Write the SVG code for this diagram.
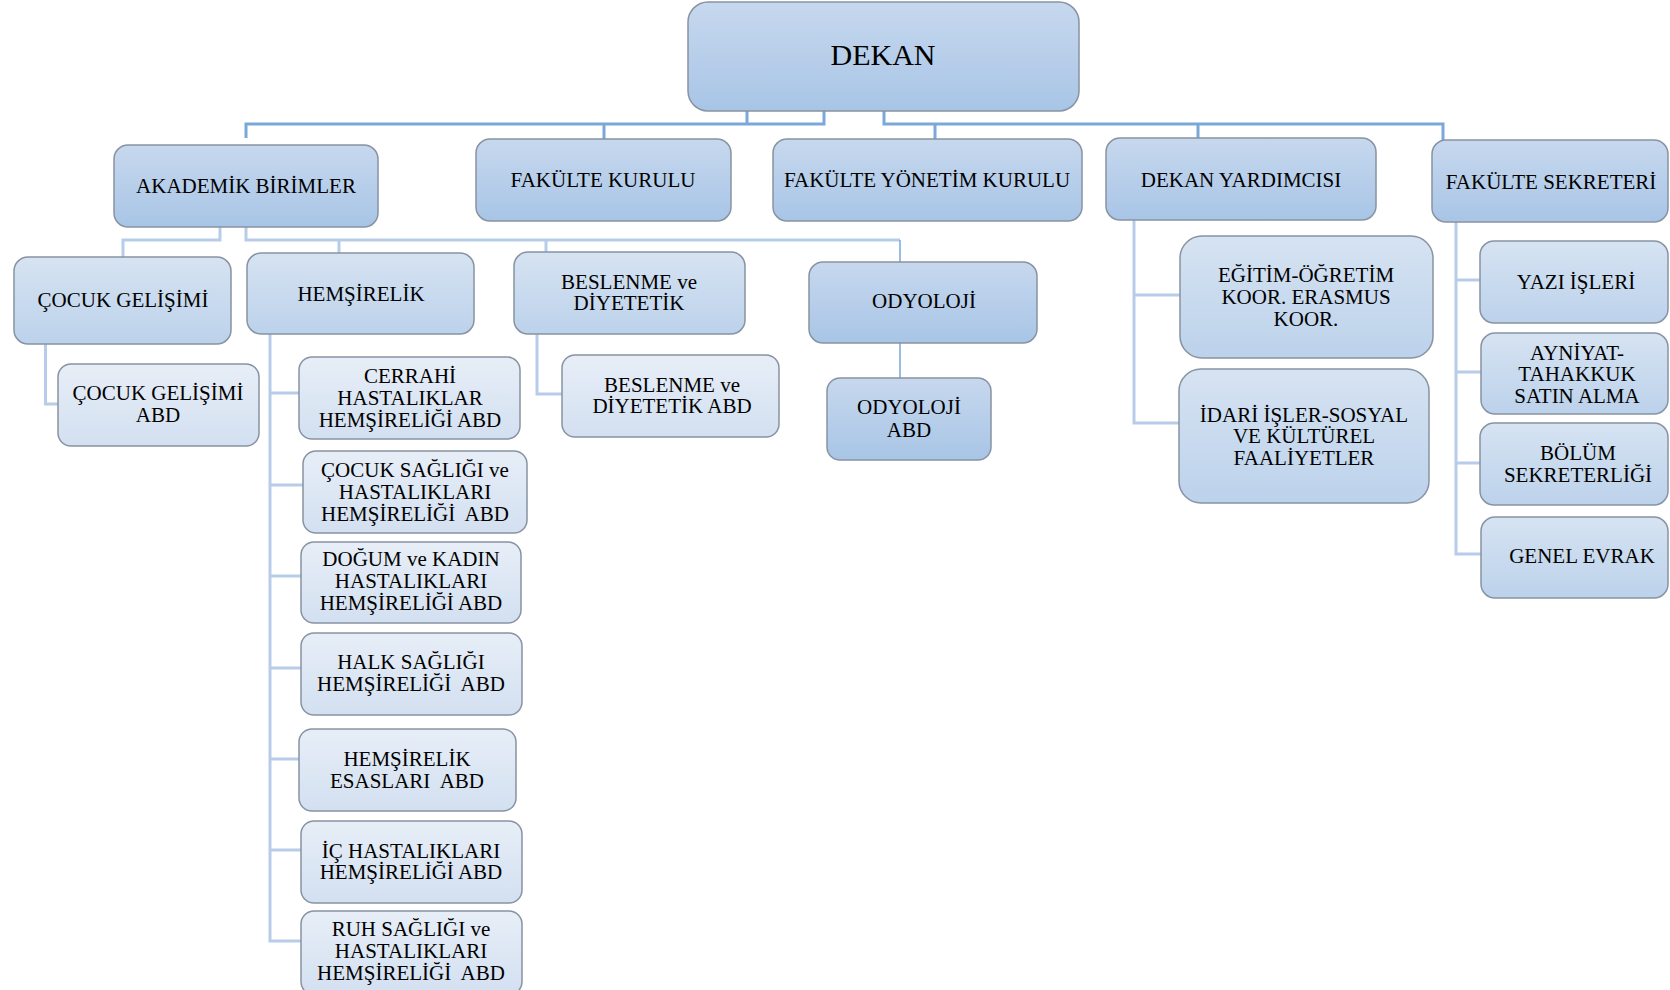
<svg xmlns="http://www.w3.org/2000/svg" width="1670" height="990" viewBox="0 0 1670 990">
<defs>
<linearGradient id="g1" x1="0" y1="0" x2="0" y2="1"><stop offset="0" stop-color="#c7d8ee"/><stop offset="1" stop-color="#a8c5e6"/></linearGradient>
<linearGradient id="g2" x1="0" y1="0" x2="0" y2="1"><stop offset="0" stop-color="#d6e3f2"/><stop offset="1" stop-color="#bcd2eb"/></linearGradient>
<linearGradient id="g3" x1="0" y1="0" x2="0" y2="1"><stop offset="0" stop-color="#e7eef7"/><stop offset="1" stop-color="#d3e0f1"/></linearGradient>
<style>
.n{stroke:#8893a3;stroke-width:1.5}
.l1{fill:url(#g1)}
.l2{fill:url(#g2)}
.l3{fill:url(#g3)}
text{font-family:"Liberation Serif","Times New Roman",serif;font-size:21px;fill:#000;text-anchor:middle}
.big{font-size:30px}
.c1{fill:none;stroke:#7ba7da;stroke-width:3}
.c2{fill:none;stroke:#b7cce8;stroke-width:3}
.c3{fill:none;stroke:#7ba7da;stroke-width:1.5}
</style>
</defs>
<rect width="1670" height="990" fill="#fff"/>
<g id="connectors">
<path class="c1" d="M747,111 V124 H246 V138 M824,111 V124 H747 M604,124 V139 M884,111 V124 H1443 V140 M935,124 V139 M1198,124 V138"/>
<path class="c2" d="M220,227 V240 H123 V257 M246,227 V240 H900 M339,240 V253 M546,240 V252 M45.5,344 V404 H58 M270,334 V941 H301 M270,393 H299 M270,485 H303 M270,576 H301 M270,668 H301 M270,759 H299 M270,850 H301 M537,334 V394 H562 M1134,220 V423 H1179 M1134,295 H1180 M1456,222 V554 H1481 M1456,280 H1480 M1456,372 H1481 M1456,463 H1480"/>
<path class="c3" d="M900,240 V262 M900,343 V378"/>
</g>
<g id="dekan"><rect class="n l1" x="688" y="2" width="391" height="109" rx="20"/><text class="big" x="883" y="65">DEKAN</text></g>
<g id="akademik"><rect class="n l1" x="114" y="145" width="264" height="82" rx="14"/><text x="246" y="193">AKADEMİK BİRİMLER</text></g>
<g id="fakulte-kurulu"><rect class="n l1" x="476" y="139" width="255" height="82" rx="14"/><text x="603" y="187">FAKÜLTE KURULU</text></g>
<g id="fyk"><rect class="n l1" x="773" y="139" width="309" height="82" rx="14"/><text x="927" y="187">FAKÜLTE YÖNETİM KURULU</text></g>
<g id="dekan-yardimcisi"><rect class="n l1" x="1106" y="138" width="270" height="82" rx="14"/><text x="1241" y="187">DEKAN YARDIMCISI</text></g>
<g id="fakulte-sekreteri"><rect class="n l1" x="1432" y="140" width="236" height="82" rx="14"/><text x="1551" y="189">FAKÜLTE SEKRETERİ</text></g>
<g id="cocuk-gelisimi"><rect class="n l2" x="14" y="257" width="217" height="87" rx="14"/><text x="123" y="307">ÇOCUK GELİŞİMİ</text></g>
<g id="hemsirelik"><rect class="n l2" x="247" y="253" width="227" height="81" rx="14"/><text x="361" y="301">HEMŞİRELİK</text></g>
<g id="beslenme"><rect class="n l2" x="514" y="252" width="231" height="82" rx="14"/><text x="629" y="289">BESLENME ve<tspan x="629" y="310">DİYETETİK</tspan></text></g>
<g id="odyoloji"><rect class="n l1" x="809" y="262" width="228" height="81" rx="14"/><text x="924" y="308">ODYOLOJİ</text></g>
<g id="cg-abd"><rect class="n l3" x="58" y="364" width="201" height="82" rx="13"/><text x="158" y="400">ÇOCUK GELİŞİMİ<tspan x="158" y="422">ABD</tspan></text></g>
<g id="cerrahi"><rect class="n l3" x="299" y="357" width="221" height="82" rx="13"/><text x="410" y="383">CERRAHİ<tspan x="410" y="405">HASTALIKLAR</tspan><tspan x="410" y="427">HEMŞİRELİĞİ ABD</tspan></text></g>
<g id="cocuk-sagligi"><rect class="n l3" x="303" y="451" width="224" height="82" rx="13"/><text x="415" y="477">ÇOCUK SAĞLIĞI ve<tspan x="415" y="499">HASTALIKLARI</tspan><tspan x="415" y="521" xml:space="preserve">HEMŞİRELİĞİ  ABD</tspan></text></g>
<g id="dogum"><rect class="n l3" x="301" y="542" width="220" height="81" rx="13"/><text x="411" y="566">DOĞUM ve KADIN<tspan x="411" y="588">HASTALIKLARI</tspan><tspan x="411" y="610">HEMŞİRELİĞİ ABD</tspan></text></g>
<g id="halk-sagligi"><rect class="n l3" x="301" y="633" width="221" height="82" rx="13"/><text x="411" y="669">HALK SAĞLIĞI<tspan x="411" y="691" xml:space="preserve">HEMŞİRELİĞİ  ABD</tspan></text></g>
<g id="hemsirelik-esaslari"><rect class="n l3" x="299" y="729" width="217" height="82" rx="13"/><text x="407" y="766">HEMŞİRELİK<tspan x="407" y="788" xml:space="preserve">ESASLARI  ABD</tspan></text></g>
<g id="ic-hastaliklari"><rect class="n l3" x="301" y="821" width="221" height="82" rx="13"/><text x="411" y="858">İÇ HASTALIKLARI<tspan x="411" y="879">HEMŞİRELİĞİ ABD</tspan></text></g>
<g id="ruh-sagligi"><rect class="n l3" x="301" y="911" width="221" height="84" rx="13"/><text x="411" y="936">RUH SAĞLIĞI ve<tspan x="411" y="958">HASTALIKLARI</tspan><tspan x="411" y="980" xml:space="preserve">HEMŞİRELİĞİ  ABD</tspan></text></g>
<g id="beslenme-abd"><rect class="n l3" x="562" y="355" width="217" height="82" rx="13"/><text x="672" y="392">BESLENME ve<tspan x="672" y="413">DİYETETİK ABD</tspan></text></g>
<g id="odyoloji-abd"><rect class="n l1" x="827" y="378" width="164" height="82" rx="13"/><text x="909" y="414">ODYOLOJİ<tspan x="909" y="437">ABD</tspan></text></g>
<g id="egitim"><rect class="n l2" x="1180" y="236" width="253" height="122" rx="22"/><text x="1306" y="282">EĞİTİM-ÖĞRETİM<tspan x="1306" y="304">KOOR. ERASMUS</tspan><tspan x="1306" y="326">KOOR.</tspan></text></g>
<g id="idari"><rect class="n l2" x="1179" y="369" width="250" height="134" rx="22"/><text x="1304" y="422">İDARİ İŞLER-SOSYAL<tspan x="1304" y="443">VE KÜLTÜREL</tspan><tspan x="1304" y="465">FAALİYETLER</tspan></text></g>
<g id="yazi-isleri"><rect class="n l2" x="1480" y="241" width="188" height="82" rx="14"/><text x="1576" y="289">YAZI İŞLERİ</text></g>
<g id="ayniyat"><rect class="n l2" x="1481" y="333" width="187" height="81" rx="14"/><text x="1577" y="360">AYNİYAT-<tspan x="1577" y="381">TAHAKKUK</tspan><tspan x="1577" y="403">SATIN ALMA</tspan></text></g>
<g id="bolum"><rect class="n l2" x="1480" y="423" width="188" height="82" rx="14"/><text x="1578" y="460">BÖLÜM<tspan x="1578" y="482">SEKRETERLİĞİ</tspan></text></g>
<g id="genel-evrak"><rect class="n l2" x="1481" y="517" width="187" height="81" rx="14"/><text x="1582" y="563">GENEL EVRAK</text></g>
</svg>
